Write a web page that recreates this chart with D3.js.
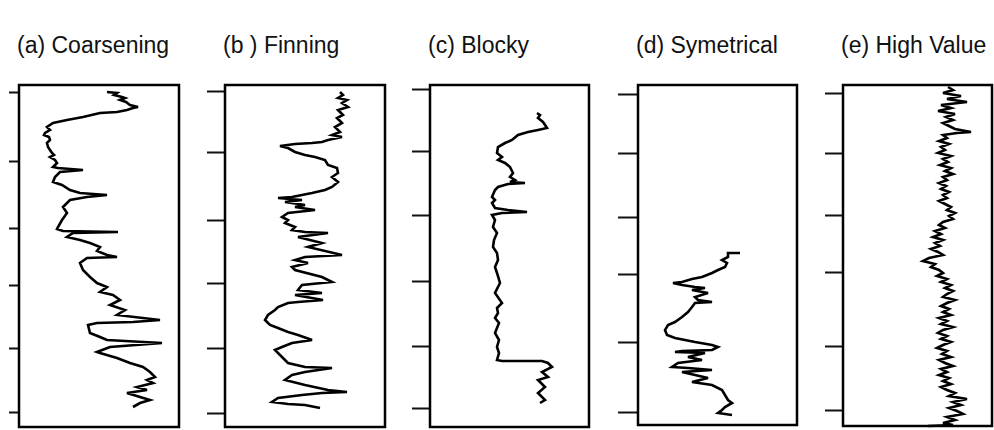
<!DOCTYPE html>
<html>
<head>
<meta charset="utf-8">
<script src="https://cdnjs.cloudflare.com/ajax/libs/d3/7.8.5/d3.min.js"></script>
<style>
  body { margin: 0; background: #fff; }
  svg { display: block; }
  .title { font-family: "Liberation Sans", Arial, sans-serif; font-size: 23px; fill: #111; }
</style>
</head>
<body>
<div id="chart"></div>
<script>
// Log motifs: [depth, gamma-ray value]
const titles = ["(a) Coarsening", "(b ) Finning", "(c) Blocky", "(d) Symetrical", "(e) High Value"];

const coarsening = [[7,88],[8,98],[10,95],[12,103],[13,106],[15,101],[17,107],[20,111],[22,119],[23,114],[25,108],[27,98],[28,81],[32,64],[35,48],[38,34],[42,28],[45,31],[48,26],[50,25],[52,30],[55,31],[58,28],[62,29],[65,31],[68,33],[70,35],[72,31],[75,36],[78,38],[82,34],[83,39],[85,64],[87,41],[92,36],[97,34],[100,43],[105,51],[108,61],[110,88],[112,68],[115,51],[122,44],[128,48],[135,43],[142,39],[144,38],[146,44],[147,99],[148,54],[152,48],[155,61],[158,71],[162,81],[166,78],[170,88],[172,98],[173,68],[178,61],[185,64],[192,71],[198,78],[202,88],[207,81],[210,94],[215,101],[220,91],[225,106],[230,98],[235,141],[237,114],[238,78],[240,69],[248,71],[252,81],[255,88],[258,143],[262,91],[267,78],[268,81],[273,98],[278,111],[282,124],[287,131],[292,136],[295,128],[298,134],[302,118],[305,128],[308,108],[312,121],[315,131],[318,121],[322,114]];

const finning = [[7,115],[10,118],[13,113],[15,122],[18,117],[22,123],[25,113],[30,118],[33,112],[38,117],[42,110],[47,115],[50,107],[52,117],[55,103],[57,97],[58,87],[59,70],[61,55],[63,63],[67,70],[70,80],[72,90],[75,100],[80,103],[83,112],[88,113],[92,107],[97,113],[102,107],[105,100],[108,87],[110,77],[112,67],[113,53],[115,77],[117,60],[120,80],[122,70],[125,90],[128,63],[132,57],[135,63],[138,60],[142,70],[145,67],[147,80],[148,103],[152,73],[158,97],[162,83],[170,117],[172,80],[175,70],[178,83],[182,67],[185,70],[192,97],[197,107],[200,77],[205,73],[208,97],[210,70],[215,98],[217,73],[218,63],[222,53],[225,50],[230,43],[235,40],[240,45],[243,53],[247,63],[250,73],[255,87],[258,67],[262,57],[265,50],[272,57],[278,63],[282,80],[283,107],[287,80],[290,67],[295,60],[300,80],[305,103],[307,122],[308,97],[310,77],[313,53],[317,47],[319,63],[320,80],[323,95]];

const blocky = [[28,107],[30,110],[33,108],[37,113],[43,117],[45,108],[47,98],[50,88],[55,82],[58,75],[62,68],[68,67],[72,72],[75,68],[78,75],[82,80],[88,83],[92,80],[95,85],[97,80],[98,95],[99,78],[102,68],[105,65],[112,62],[115,65],[118,62],[123,65],[125,78],[127,97],[128,72],[130,62],[135,65],[142,63],[148,67],[155,64],[162,63],[168,67],[175,68],[182,65],[188,67],[198,70],[208,65],[218,72],[223,67],[228,68],[233,65],[238,69],[248,65],[255,69],[262,67],[268,69],[275,67],[276,72],[276,112],[278,118],[282,122],[287,112],[292,118],[295,108],[302,115],[308,108],[315,115],[318,110]];

const symmetrical = [[168,102],[168,90],[172,90],[175,84],[178,89],[182,87],[185,80],[188,74],[192,64],[194,54],[197,44],[198,35],[200,44],[202,57],[203,67],[205,54],[208,70],[212,57],[215,60],[217,74],[218,57],[222,54],[227,50],[232,44],[237,37],[240,30],[245,27],[250,29],[253,37],[257,57],[260,74],[262,80],[265,74],[266,44],[267,37],[268,67],[272,50],[275,64],[278,40],[282,34],[283,50],[285,74],[287,44],[290,57],[293,70],[297,54],[300,74],[305,84],[310,87],[315,90],[318,94],[322,87],[325,84],[328,80],[330,94]];

const highValue = [[2,105],[5,110],[8,100],[11,118],[14,104],[17,124],[20,98],[23,108],[26,95],[29,112],[32,103],[35,110],[38,100],[41,106],[44,112],[47,128],[48,114],[50,100],[53,104],[56,96],[59,106],[62,98],[65,102],[68,95],[71,108],[74,100],[77,105],[80,97],[83,108],[86,102],[89,110],[92,100],[95,104],[98,96],[101,103],[104,98],[107,106],[110,100],[113,104],[116,96],[119,102],[122,108],[125,104],[128,112],[131,106],[134,110],[137,100],[140,96],[143,102],[146,92],[149,98],[152,90],[155,100],[158,92],[161,97],[164,88],[167,95],[170,100],[173,86],[176,80],[179,92],[182,88],[185,96],[188,100],[191,94],[194,104],[197,98],[200,108],[203,102],[206,110],[209,104],[212,100],[215,112],[218,104],[221,98],[224,106],[227,100],[230,108],[233,96],[236,104],[239,98],[242,110],[245,100],[248,95],[251,104],[254,98],[257,108],[260,100],[263,94],[266,104],[269,99],[272,108],[275,96],[278,102],[281,110],[284,98],[287,104],[290,96],[293,106],[296,100],[299,108],[302,98],[305,104],[308,112],[311,106],[314,124],[317,110],[320,118],[323,106],[326,114],[329,120],[332,104],[335,112],[338,100],[340,110],[341,85]];

// depth of the tick marks in each track
const tickDepths = [
  [7, 76, 143, 200, 263, 327],
  [6, 67, 135, 198, 263, 328],
  [4, 66, 130, 196, 261, 323],
  [9, 68, 132, 189, 257, 327],
  [8, 68, 130, 187, 261, 325]
];

const logs = [coarsening, finning, blocky, symmetrical, highValue];

// layout
const W = 994, H = 430;
const lefts = [19, 225, 430, 638, 843];
const widths = [160, 160, 159, 159, 149];
const heights = [342, 342, 342, 340, 341];
const tickLen = [10, 18, 18, 20, 18];
const trackTop = 85;

const svg = d3.select("#chart").append("svg")
    .attr("width", W)
    .attr("height", H);

logs.forEach((log, i) => {
  const g = svg.append("g");

  const x = d3.scaleLinear().domain([0, 160]).range([lefts[i], lefts[i] + 160]);
  const y = d3.scaleLinear().domain([0, 342]).range([trackTop, trackTop + 342]);

  // title
  g.append("text")
      .attr("class", "title")
      .attr("x", lefts[i] - 2)
      .attr("y", 53)
      .text(titles[i]);

  // ticks on the left
  const axis = d3.axisLeft(y)
      .tickValues(tickDepths[i])
      .tickFormat("")
      .tickSize(tickLen[i])
      .tickSizeOuter(0);

  const ax = g.append("g")
      .attr("transform", `translate(${lefts[i]},0)`)
      .call(axis);
  ax.select(".domain").remove();
  ax.selectAll(".tick line").attr("stroke", "#111").attr("stroke-width", 2);

  // the log curve
  g.append("path")
      .datum(log)
      .attr("fill", "none")
      .attr("stroke", "#000")
      .attr("stroke-width", 2.6)
      .attr("stroke-linejoin", "miter")
      .attr("d", d3.line()
          .x(d => x(d[1]))
          .y(d => y(d[0])));

  // track frame
  g.append("rect")
      .attr("x", lefts[i])
      .attr("y", trackTop)
      .attr("width", widths[i])
      .attr("height", heights[i])
      .attr("fill", "none")
      .attr("stroke", "#000")
      .attr("stroke-width", 2.5);
});
</script>
</body>
</html>
